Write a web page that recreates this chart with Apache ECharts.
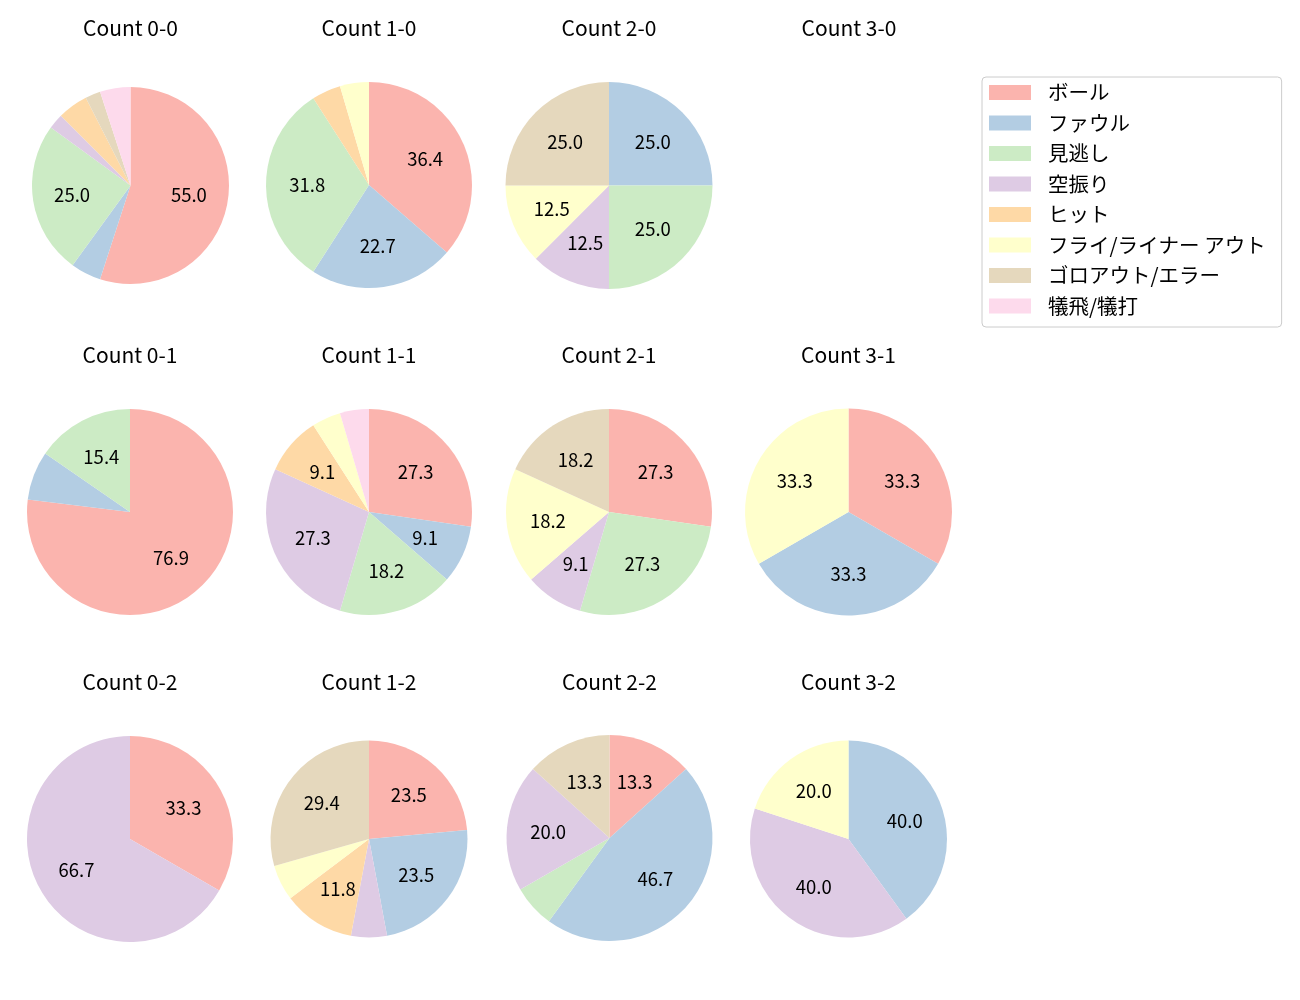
<!DOCTYPE html>
<html>
<head>
<meta charset="utf-8">
<script src="https://cdn.jsdelivr.net/npm/echarts@6/dist/echarts.min.js"></script>
<style>
html,body{margin:0;padding:0;background:#fff;}
#chart{width:1300px;height:1000px;}
</style>
</head>
<body>
<div id="chart"></div>
<script>
// Categories (legend order)
const categories = ['ボール', 'ファウル', '見逃し', '空振り', 'ヒット', 'フライ/ライナー アウト', 'ゴロアウト/エラー', '犠飛/犠打'];
const colors = ['#fbb4ae', '#b3cde3', '#ccebc5', '#decbe4', '#fed9a6', '#ffffcc', '#e5d8bd', '#fddaec'];

// Counts per ball-strike situation (values in category order)
const count00 = [22, 2, 10, 1, 2, 0, 1, 2];
const count10 = [8, 5, 7, 0, 1, 1, 0, 0];
const count20 = [0, 2, 2, 1, 0, 1, 2, 0];
const count30 = null; // no data
const count01 = [10, 1, 2, 0, 0, 0, 0, 0];
const count11 = [6, 2, 4, 6, 2, 1, 0, 1];
const count21 = [3, 0, 3, 1, 0, 2, 2, 0];
const count31 = [1, 1, 0, 0, 0, 1, 0, 0];
const count02 = [1, 0, 0, 2, 0, 0, 0, 0];
const count12 = [4, 4, 0, 1, 2, 1, 5, 0];
const count22 = [2, 7, 1, 3, 0, 0, 2, 0];
const count32 = [0, 2, 0, 2, 0, 1, 0, 0];

const panels = [
  {title: 'Count 0-0', data: count00, cx: 130.5, cy: 185.5, r: 98.5, ty: 28},
  {title: 'Count 1-0', data: count10, cx: 369, cy: 185, r: 103, ty: 28},
  {title: 'Count 2-0', data: count20, cx: 609, cy: 185.5, r: 103.5, ty: 28},
  {title: 'Count 3-0', data: count30, cx: 849, cy: 185.5, r: 103, ty: 28},
  {title: 'Count 0-1', data: count01, cx: 130, cy: 512, r: 103, ty: 355},
  {title: 'Count 1-1', data: count11, cx: 369, cy: 512, r: 103, ty: 355},
  {title: 'Count 2-1', data: count21, cx: 609, cy: 512, r: 103, ty: 355},
  {title: 'Count 3-1', data: count31, cx: 848.5, cy: 512, r: 103.5, ty: 355},
  {title: 'Count 0-2', data: count02, cx: 130, cy: 839, r: 103, ty: 682},
  {title: 'Count 1-2', data: count12, cx: 369, cy: 839, r: 98.5, ty: 682},
  {title: 'Count 2-2', data: count22, cx: 609.5, cy: 838, r: 103, ty: 682},
  {title: 'Count 3-2', data: count32, cx: 848.5, cy: 839, r: 98.5, ty: 682}
];

const FONT = '"Noto Sans CJK JP", "Noto Sans", sans-serif';
const TITLE_SIZE = 21;

const titles = panels.map(p => ({
  text: p.title,
  left: p.cx - 5,
  top: p.ty - 5 - TITLE_SIZE / 2,
  textAlign: 'center',
  textStyle: {fontFamily: FONT, fontSize: TITLE_SIZE, fontWeight: 'normal', color: '#000'}
}));

const series = [];
panels.forEach(p => {
  if (!p.data) return;
  const items = categories.map((c, i) => ({name: c, value: p.data[i]}));
  series.push({
    type: 'pie',
    center: [p.cx, p.cy],
    radius: [0, p.r],
    startAngle: 90,
    clockwise: true,
    stillShowZeroSum: false,
    minAngle: 0,
    avoidLabelOverlap: false,
    label: {show: false},
    labelLine: {show: false},
    itemStyle: {borderWidth: 0},
    emphasis: {disabled: true},
    animation: false,
    silent: true,
    data: items
  });
});
panels.forEach(p => {
  if (!p.data) return;
  const total = p.data.reduce((a, b) => a + b, 0);
  const items = categories.map((c, i) => ({name: c, value: p.data[i]}));
  series.push({
    type: 'pie',
    center: [p.cx, p.cy],
    radius: [0, p.r * 1.14],
    startAngle: 90,
    clockwise: true,
    stillShowZeroSum: false,
    avoidLabelOverlap: false,
    itemStyle: {color: 'rgba(0,0,0,0)', borderWidth: 0},
    label: {
      show: true,
      position: 'inside',
      fontFamily: FONT,
      fontSize: 18.5,
      color: '#000',
      formatter: prm => {
        const pct = prm.value / total * 100;
        return pct >= 8 ? pct.toFixed(1) : '';
      }
    },
    labelLine: {show: false},
    emphasis: {disabled: true},
    animation: false,
    silent: true,
    legendHoverLink: false,
    data: items
  });
});

const chart = echarts.init(document.getElementById('chart'), null, {renderer: 'canvas'});
chart.setOption({
  backgroundColor: '#fff',
  animation: false,
  color: colors,
  title: titles,
  legend: {
    orient: 'vertical',
    left: 982,
    top: 77,
    data: categories,
    icon: 'rect',
    itemWidth: 42,
    itemHeight: 15,
    itemGap: 6.5,
    padding: [3.5, 16, 9, 7],
    borderColor: '#cccccc',
    borderWidth: 1,
    borderRadius: 4,
    backgroundColor: '#fff',
    selectedMode: false,
    textStyle: {fontFamily: FONT, fontSize: 20.5, color: '#000', lineHeight: 24, padding: [0, 0, 0, 12]}
  },
  series: series
});
</script>
</body>
</html>
